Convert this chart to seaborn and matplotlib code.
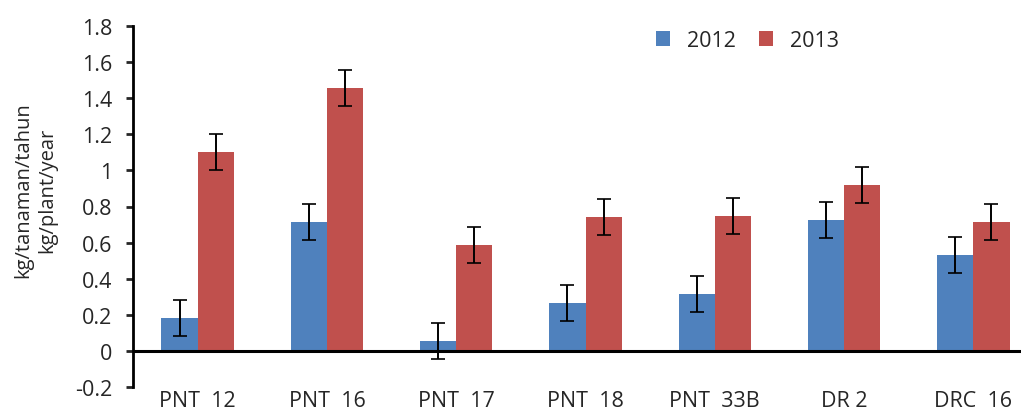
import numpy as np
import pandas as pd
import matplotlib.pyplot as plt
import seaborn as sns

clones = ["PNT  12", "PNT  16", "PNT  17", "PNT  18", "PNT  33B", "DR 2", "DRC  16"]
years = ["2012", "2013"]
y2012 = [0.18, 0.715, 0.055, 0.265, 0.315, 0.725, 0.53]
y2013 = [1.10, 1.455, 0.585, 0.74, 0.745, 0.92, 0.715]
err2012 = [0.10, 0.10, 0.10, 0.10, 0.10, 0.10, 0.10]
err2013 = [0.10, 0.10, 0.10, 0.10, 0.10, 0.10, 0.10]

df = pd.DataFrame({
    "clone": clones * 2,
    "year": [years[0]] * len(clones) + [years[1]] * len(clones),
    "yield": y2012 + y2013,
})

sns.set_style("white")
plt.rcParams['font.family'] = ['Open Sans', 'DejaVu Sans']

fig = plt.figure(figsize=(10.21, 4.10), dpi=100)
ax = fig.add_axes([133 / 1021, 1 - 388 / 410, 905 / 1021, 361 / 410])

sns.barplot(data=df, x="clone", y="yield", hue="year",
            palette=["#4F81BD", "#C0504D"], width=0.56, errorbar=None,
            saturation=1, edgecolor="none", ax=ax)

# error bars at the bar centres
for cont, errs in zip(ax.containers, [err2012, err2013]):
    xs = [b.get_x() + b.get_width() / 2 for b in cont]
    hs = [b.get_height() for b in cont]
    ax.errorbar(xs, hs, yerr=errs, fmt="none", ecolor="black",
                elinewidth=1.4, capsize=4.8, capthick=1.2)

ax.set_ylim(-0.2, 1.8)
ax.set_xlim(-0.5, 6.5)
ax.set_yticks(np.arange(-0.2, 1.81, 0.2))
ax.set_yticklabels(["-0.2", "0", "0.2", "0.4", "0.6", "0.8", "1", "1.2", "1.4", "1.6", "1.8"])
ax.axhline(0, color="black", lw=2.2, zorder=5)

for s in ["top", "right", "bottom"]:
    ax.spines[s].set_visible(False)
ax.spines["left"].set_color("black")
ax.spines["left"].set_linewidth(2)
ax.tick_params(axis="y", which="both", left=True, length=5, width=2,
               direction="out", labelsize=15.5, pad=10)
ax.tick_params(axis="x", length=0, labelsize=15.5, pad=2)

ax.set_xlabel("")
ax.set_ylabel("kg/tanaman/tahun\nkg/plant/year", fontsize=14.5, linespacing=1.25)
ax.yaxis.set_label_coords(-0.084, 0.547)

sns.move_legend(ax, "center left", bbox_to_anchor=(0.566, 0.96), ncol=2,
                frameon=False, title=None, fontsize=15.5, borderpad=0,
                handlelength=0.65, handleheight=0.65, handletextpad=0.78,
                columnspacing=1.1)

fig.savefig("out.png", dpi=100)
